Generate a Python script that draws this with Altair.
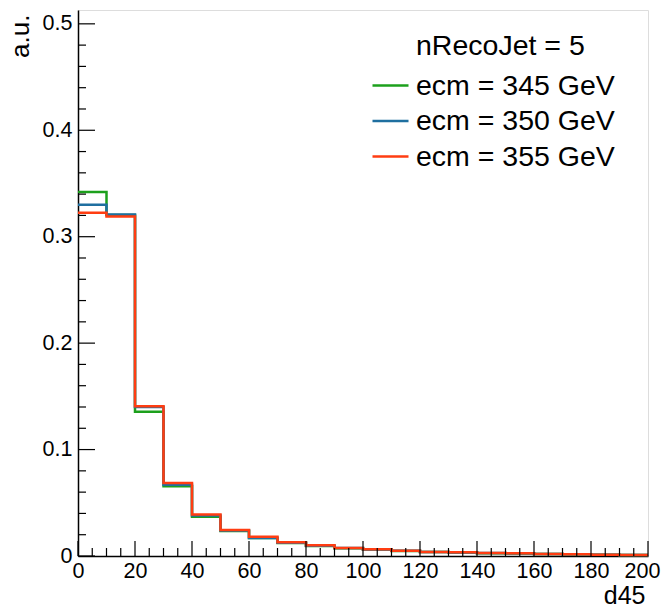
import altair as alt
import pandas as pd

edges = list(range(0, 201, 10))
series_names = ["ecm = 345 GeV", "ecm = 350 GeV", "ecm = 355 GeV"]
colors = ["#1ca01c", "#1f6fa0", "#ff3d12"]

v345 = [0.342, 0.3205, 0.1355, 0.0655, 0.0368, 0.0235, 0.0168, 0.0122, 0.0094, 0.0073,
        0.0060, 0.0048, 0.0037, 0.0033, 0.0027, 0.0024, 0.0018, 0.0015, 0.0012, 0.0009]
v350 = [0.330, 0.3208, 0.1400, 0.0670, 0.0380, 0.0240, 0.0170, 0.0125, 0.0097, 0.0075,
        0.0062, 0.0049, 0.0038, 0.0034, 0.0028, 0.0025, 0.0019, 0.0016, 0.0012, 0.0010]
v355 = [0.3225, 0.3190, 0.1408, 0.0685, 0.0390, 0.0244, 0.0180, 0.0130, 0.0100, 0.0076,
        0.0063, 0.0050, 0.0038, 0.0035, 0.0028, 0.0025, 0.0019, 0.0016, 0.0012, 0.0010]

x_major = list(range(0, 201, 20))
x_minor = [v for v in range(0, 201, 5) if v % 20 != 0]
y_major = [0.0, 0.1, 0.2, 0.3, 0.4, 0.5]
y_minor = [round(0.02 * i, 2) for i in range(1, 26) if i % 5 != 0]

legend_title = "nRecoJet = 5"
x_title = "d45"
y_title = "a.u."

rows = []
for name, vals in zip(series_names, [v345, v350, v355]):
    for i, v in enumerate(vals):
        rows.append({"series": name, "x": edges[i], "y": v})
    rows.append({"series": name, "x": edges[-1], "y": vals[-1]})
df = pd.DataFrame(rows)

FONT = "Liberation Sans"
xscale = alt.Scale(domain=[0, 200], nice=False, zero=False)
yscale = alt.Scale(domain=[0, 0.513], nice=False)

x_axis = alt.Axis(values=x_major, format="d", ticks=False, tickSize=0, grid=False,
                  domainColor="black", domainWidth=1.5, labelFontSize=21.5,
                  labelFont=FONT, labelColor="black", labelPadding=4,
                  labelOffset={"condition": {"test": "datum.value == 200", "value": -6},
                               "value": 0},
                  labelFlush=False, labelOverlap=False,
                  title=x_title, titleFont=FONT, titleFontSize=25,
                  titleFontWeight="normal", titleColor="black",
                  titleAlign="right", titleBaseline="alphabetic",
                  titleX=567, titleY=47, titleAngle=0)
y_axis = alt.Axis(values=y_major, ticks=False, tickSize=0, grid=False,
                  labelExpr="datum.value == 0 ? '0' : format(datum.value, '.1f')",
                  domainColor="black", domainWidth=1.5, labelFontSize=21.5,
                  labelFont=FONT, labelColor="black", labelPadding=6,
                  labelFlush=False, labelOverlap=False,
                  title=y_title, titleFont=FONT, titleFontSize=26,
                  titleFontWeight="normal", titleColor="black",
                  titleAngle=270, titleAlign="right", titleBaseline="alphabetic",
                  titleX=-50, titleY=4)

lines = alt.Chart(df).mark_line(interpolate="step-after", strokeWidth=2.5).encode(
    x=alt.X("x:Q", scale=xscale, axis=x_axis),
    y=alt.Y("y:Q", scale=yscale, axis=y_axis),
    color=alt.Color("series:N",
                    scale=alt.Scale(domain=series_names, range=colors),
                    legend=alt.Legend(title=None, orient="none", legendX=293, legendY=56,
                                      symbolType="stroke", symbolSize=1296,
                                      symbolStrokeWidth=2.5, labelFont=FONT,
                                      labelFontSize=28.5, labelColor="black",
                                      labelLimit=400,
                                      labelOffset=6, rowPadding=1.5, padding=0)),
)

def ticks_y(vals, length):
    d = pd.DataFrame({"y": vals})
    return alt.Chart(d).mark_rule(color="black", strokeWidth=1.2).encode(
        y=alt.Y("y:Q", scale=yscale, axis=y_axis),
        x=alt.value(0), x2=alt.value(length))

def ticks_x(vals, length):
    d = pd.DataFrame({"x": vals})
    return alt.Chart(d).mark_rule(color="black", strokeWidth=1.2).encode(
        x=alt.X("x:Q", scale=xscale, axis=x_axis),
        y=alt.value(546), y2=alt.value(546 - length))

title_df = pd.DataFrame({"t": [legend_title]})
title_text = alt.Chart(title_df).mark_text(
    align="left", baseline="alphabetic", font=FONT, fontSize=28.5, color="black"
).encode(text="t:N", x=alt.value(338), y=alt.value(45))

chart = alt.layer(
    lines,
    ticks_y(y_major, 17), ticks_y(y_minor, 8),
    ticks_x(x_major, 15), ticks_x(x_minor, 8),
    title_text
).properties(
    width=570, height=546,
    autosize=alt.AutoSizeParams(type="none"),
    padding={"left": 70, "top": 2, "right": 14, "bottom": 51},
).configure_view(stroke="#808080", strokeWidth=2).configure(background="white")

chart.save("out.html", embed_options={"renderer": "svg", "actions": False})
